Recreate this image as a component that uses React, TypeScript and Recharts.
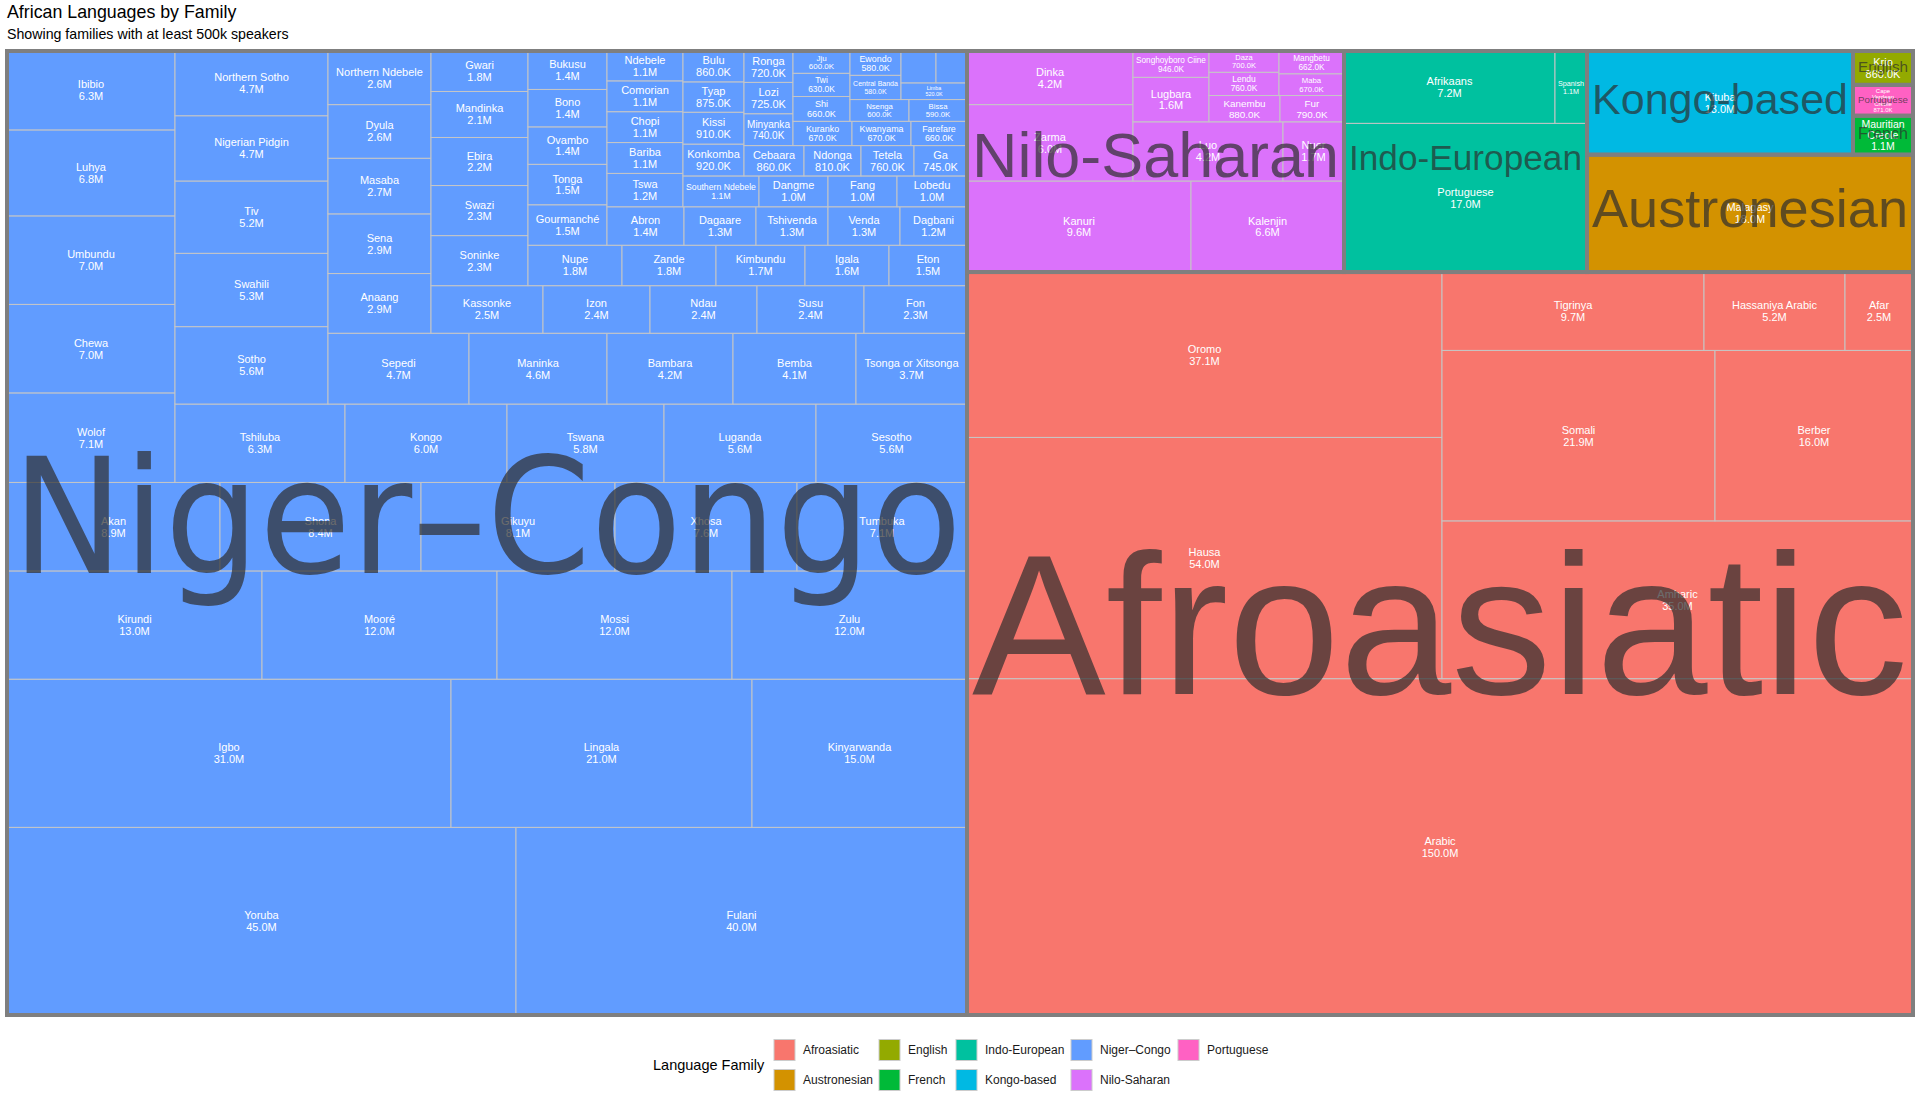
import { Treemap } from 'recharts';

// speakers are in millions
const familyNames = [
  'Afroasiatic', 'Austronesian', 'English', 'French', 'Indo-European',
  'Kongo-based', 'Niger–Congo', 'Nilo-Saharan', 'Portuguese',
];
const familyColors = [
  '#F8766D', '#D39200', '#93AA00', '#00BA38', '#00C19F',
  '#00B9E3', '#619CFF', '#DB72FB', '#FF61C3',
];

const afroasiaticLanguages = ['Arabic', 'Hausa', 'Oromo', 'Amharic', 'Somali', 'Berber', 'Tigrinya', 'Hassaniya Arabic', 'Afar'];
const afroasiaticSpeakers = [150.0, 54.0, 37.1, 35.0, 21.9, 16.0, 9.7, 5.2, 2.5];

const austronesianLanguages = ['Malagasy'];
const austronesianSpeakers = [18.0];

const englishLanguages = ['Krio'];
const englishSpeakers = [0.86];

const frenchLanguages = ['Mauritian Creole'];
const frenchSpeakers = [1.1];

const indoEuropeanLanguages = ['Portuguese', 'Afrikaans', 'Spanish'];
const indoEuropeanSpeakers = [17.0, 7.2, 1.1];

const kongoBasedLanguages = ['Kituba'];
const kongoBasedSpeakers = [13.0];

const portugueseLanguages = ['Cape Verdean Creole'];
const portugueseSpeakers = [0.871];

const niloSaharanLanguages = [
  'Kanuri', 'Kalenjin', 'Zarma', 'Dinka', 'Luo', 'Nuer', 'Lugbara', 'Songhoyboro Ciine',
  'Kanembu', 'Fur', 'Lendu', 'Daza', 'Maba', 'Mangbetu',
];
const niloSaharanSpeakers = [9.6, 6.6, 6.0, 4.2, 4.2, 1.7, 1.6, 0.946, 0.88, 0.79, 0.76, 0.7, 0.67, 0.662];

// ties keep the order seen in the source; two tiny tiles carry no readable label there
const nigerCongoLanguages = [
  'Yoruba', 'Fulani', 'Igbo', 'Lingala', 'Kinyarwanda', 'Kirundi', 'Mooré', 'Mossi', 'Zulu',
  'Akan', 'Shona', 'Gikuyu', 'Xhosa', 'Tumbuka', 'Wolof', 'Chewa', 'Umbundu', 'Luhya',
  'Ibibio', 'Tshiluba', 'Kongo', 'Tswana', 'Luganda', 'Sesotho', 'Sotho', 'Swahili', 'Tiv',
  'Nigerian Pidgin', 'Northern Sotho', 'Sepedi', 'Maninka', 'Bambara', 'Bemba', 'Tsonga or Xitsonga',
  'Anaang', 'Sena', 'Masaba', 'Dyula', 'Northern Ndebele', 'Kassonke', 'Izon', 'Ndau', 'Susu',
  'Fon', 'Soninke', 'Swazi', 'Ebira', 'Mandinka', 'Gwari', 'Nupe', 'Zande', 'Kimbundu', 'Igala',
  'Eton', 'Gourmanché', 'Tonga', 'Ovambo', 'Bono', 'Bukusu', 'Abron', 'Dagaare', 'Tshivenda',
  'Venda', 'Dagbani', 'Tswa', 'Bariba', 'Chopi', 'Comorian', 'Ndebele', 'Southern Ndebele',
  'Dangme', 'Fang', 'Lobedu', 'Konkomba', 'Kissi', 'Tyap', 'Bulu', 'Cebaara', 'Ndonga', 'Tetela',
  'Ga', 'Minyanka', 'Lozi', 'Ronga', 'Kuranko', 'Kwanyama', 'Farefare', 'Shi', 'Twi', 'Jju',
  'Nsenga', 'Bissa', 'Central Banda', 'Ewondo', 'Limba', '', '',
];
const nigerCongoSpeakers = [
  45.0, 40.0, 31.0, 21.0, 15.0, 13.0, 12.0, 12.0, 12.0,
  8.9, 8.4, 8.1, 7.6, 7.1, 7.1, 7.0, 7.0, 6.8,
  6.3, 6.3, 6.0, 5.8, 5.6, 5.6, 5.6, 5.3, 5.2,
  4.7, 4.7, 4.7, 4.6, 4.2, 4.1, 3.7,
  2.9, 2.9, 2.7, 2.6, 2.6, 2.5, 2.4, 2.4, 2.4,
  2.3, 2.3, 2.3, 2.2, 2.1, 1.8, 1.8, 1.8, 1.7, 1.6,
  1.5, 1.5, 1.5, 1.4, 1.4, 1.4, 1.4, 1.3, 1.3,
  1.3, 1.2, 1.2, 1.1, 1.1, 1.1, 1.1, 1.1,
  1.0, 1.0, 1.0, 0.92, 0.91, 0.875, 0.86, 0.86, 0.81, 0.76,
  0.745, 0.74, 0.725, 0.72, 0.67, 0.67, 0.66, 0.66, 0.63, 0.6,
  0.6, 0.59, 0.58, 0.58, 0.52, 0.52, 0.5,
];

const familyLanguages = [
  afroasiaticLanguages, austronesianLanguages, englishLanguages, frenchLanguages, indoEuropeanLanguages,
  kongoBasedLanguages, nigerCongoLanguages, niloSaharanLanguages, portugueseLanguages,
];
const familySpeakers = [
  afroasiaticSpeakers, austronesianSpeakers, englishSpeakers, frenchSpeakers, indoEuropeanSpeakers,
  kongoBasedSpeakers, nigerCongoSpeakers, niloSaharanSpeakers, portugueseSpeakers,
];

// panel geometry
const PX = 7;
const PY = 51;
const PW = 1906;
const PH = 964;
// treemapify squarifies in a unit square, starting bottom-left, then stretches it
// to the panel; Recharts' square layout is turned (transposed + flipped) to match
const SIDE = PW;
const KX = PW / SIDE;
const KY = PH / SIDE;

const colorOf = (family: string) => familyColors[familyNames.indexOf(family)];

const treeData = familyNames
  .map((family, fi) => {
    const children = familyLanguages[fi]
      .map((name, i) => ({ name, value: familySpeakers[fi][i], family }))
      .sort((a, b) => b.value - a.value);
    return { name: family, family, children };
  })
  .sort(
    (a, b) =>
      b.children.reduce((s, c) => s + c.value, 0) - a.children.reduce((s, c) => s + c.value, 0),
  );

const familyTotals = treeData.map((f) => ({
  name: f.name,
  value: f.children.reduce((s, c) => s + c.value, 0),
}));

const toPanel = (x: number, y: number, w: number, h: number) => ({
  x: y * KX,
  y: (SIDE - x - w) * KY,
  w: h * KX,
  h: w * KY,
});

const fmtSpeakers = (v: number) => (v >= 1 ? `${v.toFixed(1)}M` : `${(v * 1000).toFixed(1)}K`);

const measure = typeof document !== 'undefined' ? document.createElement('canvas').getContext('2d') : null;
function textWidth(s: string, font: string) {
  if (!measure) return s.length * 6;
  measure.font = font;
  return measure.measureText(s).width;
}

const SANS = '"Liberation Sans", Arial, sans-serif';
const BASE = 11;
const LINE = 1.08;

function fitLines(lines: string[], w: number, h: number) {
  const widest = Math.max(...lines.map((l) => textWidth(l, `${BASE}px "Liberation Sans"`)));
  return Math.min(BASE, (BASE * (w - 6)) / widest, (h - 5) / (lines.length * LINE));
}

function LeafCell(props: any) {
  const { depth, x, y, width, height, name, value, family } = props;
  if (depth !== 2 || !width || !height) return <g />;
  const b = toPanel(x, y, width, height);
  const val = fmtSpeakers(value);
  let lines = [name, val];
  let fs = fitLines(lines, b.w, b.h);
  if (fs < BASE && name.includes(' ')) {
    const wrapped = [...name.split(' '), val];
    const fw = fitLines(wrapped, b.w, b.h);
    if (fw > fs) {
      lines = wrapped;
      fs = fw;
    }
  }
  const cx = b.x + b.w / 2;
  const cy = b.y + b.h / 2;
  const lh = fs * LINE;
  return (
    <g>
      <rect x={b.x} y={b.y} width={b.w} height={b.h} fill={colorOf(family)} stroke="#c6c6c6" strokeWidth={1} />
      {name && fs >= 4.5 && (
        <text textAnchor="middle" fontFamily={SANS} fontSize={fs} fill="#ffffff">
          {lines.map((l, i) => (
            <tspan key={i} x={cx} y={cy + (i - (lines.length - 1) / 2) * lh + fs * 0.36}>
              {l}
            </tspan>
          ))}
        </text>
      )}
    </g>
  );
}

function FamilyCell(props: any) {
  const { depth, x, y, width, height, name } = props;
  if (depth === 0) {
    return <rect x={0} y={0} width={PW} height={PH} fill="none" stroke="#7f7f7f" strokeWidth={4} />;
  }
  if (depth !== 1 || !width || !height) return <g />;
  const b = toPanel(x, y, width, height);
  const pad = 5;
  const em = textWidth(name, `100px "Liberation Sans"`) / 100;
  const fs = Math.min((b.w - 2 * pad) / em, (b.h - 2 * pad) / 1.0);
  return (
    <g>
      <rect x={b.x} y={b.y} width={b.w} height={b.h} fill="none" stroke="#7f7f7f" strokeWidth={4} />
      <text
        x={b.x + b.w / 2}
        y={b.y + b.h / 2 + fs * 0.25}
        textAnchor="middle"
        fontFamily={name.includes('–') ? '"DejaVu Sans", sans-serif' : SANS}
        fontSize={fs}
        fill="#2d2d2d"
        fillOpacity={0.7}
        textLength={em * fs}
        lengthAdjust="spacingAndGlyphs"
      >
        {name}
      </text>
    </g>
  );
}

const legendCols = [
  ['Afroasiatic', 'Austronesian'],
  ['English', 'French'],
  ['Indo-European', 'Kongo-based'],
  ['Niger–Congo', 'Nilo-Saharan'],
  ['Portuguese'],
];
const legendColX = [774, 879, 956, 1071, 1178];

export default function App() {
  const layer = {
    position: 'absolute' as const,
    left: PX,
    top: PY,
    width: PW,
    height: PH,
  };
  return (
    <div
      style={{
        position: 'absolute',
        left: 0,
        top: 0,
        width: 1920,
        height: 1106,
        background: '#ffffff',
        overflow: 'hidden',
        fontFamily: SANS,
      }}
    >
      <style>{'.tm-layer svg { overflow: visible; }'}</style>
      <svg width={1920} height={1106} style={{ position: 'absolute', left: 0, top: 0 }}>
        <text x={7} y={18} fontFamily={SANS} fontSize={17.8} fill="#000">
          African Languages by Family
        </text>
        <text x={7} y={39} fontFamily={SANS} fontSize={14.2} fill="#000">
          Showing families with at least 500k speakers
        </text>
        <text x={653} y={1070} fontFamily={SANS} fontSize={14.5} fill="#000">
          Language Family
        </text>
        {legendCols.map((col, ci) =>
          col.map((fam, ri) => (
            <g key={fam}>
              <rect
                x={legendColX[ci]}
                y={1039.5 + ri * 30}
                width={21}
                height={21}
                fill={colorOf(fam)}
                stroke="#cccccc"
                strokeWidth={1}
              />
              <text x={legendColX[ci] + 29} y={1054 + ri * 30} fontFamily={SANS} fontSize={12} fill="#1a1a1a">
                {fam}
              </text>
            </g>
          )),
        )}
      </svg>
      <div className="tm-layer" style={layer}>
        <Treemap
          width={SIDE}
          height={SIDE}
          data={treeData}
          dataKey="value"
          aspectRatio={1}
          isAnimationActive={false}
          content={<LeafCell />}
        />
      </div>
      <div className="tm-layer" style={layer}>
        <Treemap
          width={SIDE}
          height={SIDE}
          data={familyTotals}
          dataKey="value"
          aspectRatio={1}
          isAnimationActive={false}
          content={<FamilyCell />}
        />
      </div>
    </div>
  );
}
